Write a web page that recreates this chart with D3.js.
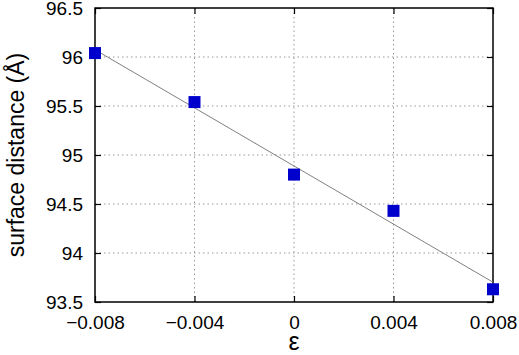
<!DOCTYPE html>
<html>
<head>
<meta charset="utf-8">
<script src="https://cdn.jsdelivr.net/npm/d3@7"></script>
<style>
  body { margin: 0; background: #fff; }
  text { font-family: "Liberation Sans", Arial, sans-serif; fill: #000; }
</style>
</head>
<body>
<svg id="chart"></svg>
<script>
// data
const strain = [-0.008, -0.004, 0, 0.004, 0.008];
const distance = [96.04, 95.54, 94.80, 94.43, 93.63];
const xTicks = [-0.008, -0.004, 0, 0.004, 0.008];
const yTicks = [93.5, 94, 94.5, 95, 95.5, 96, 96.5];

const width = 519, height = 355;
const margin = {top: 8, right: 26, bottom: 53, left: 95};

const svg = d3.select('#chart')
    .attr('width', width)
    .attr('height', height);

const innerW = width - margin.left - margin.right;
const innerH = height - margin.top - margin.bottom;

const g = svg.append('g')
    .attr('transform', `translate(${margin.left},${margin.top})`);

const x = d3.scaleLinear().domain([-0.008, 0.008]).range([0, innerW]);
const y = d3.scaleLinear().domain([93.5, 96.5]).range([innerH, 0]);

const fmtX = d => d === 0 ? '0' : d3.format('.3f')(d).replace('-', '\u2212');
const fmtY = d => String(d);

// grid
g.append('g').selectAll('line')
    .data(xTicks.slice(1, -1))
    .enter().append('line')
    .attr('x1', d => x(d)).attr('x2', d => x(d))
    .attr('y1', 0).attr('y2', innerH)
    .attr('stroke', '#999').attr('stroke-width', 1)
    .attr('stroke-dasharray', '1.5,3');

g.append('g').selectAll('line')
    .data(yTicks.slice(1, -1))
    .enter().append('line')
    .attr('x1', 0).attr('x2', innerW)
    .attr('y1', d => y(d)).attr('y2', d => y(d))
    .attr('stroke', '#999').attr('stroke-width', 1)
    .attr('stroke-dasharray', '1.5,3');

// axes with inward ticks
const tickLen = 6;
const xAxis = g.append('g')
    .attr('transform', `translate(0,${innerH})`)
    .call(d3.axisBottom(x).tickValues(xTicks).tickFormat(fmtX).tickSizeInner(-tickLen).tickSizeOuter(0).tickPadding(14));
const yAxis = g.append('g')
    .call(d3.axisLeft(y).tickValues(yTicks).tickFormat(fmtY).tickSizeInner(-tickLen).tickSizeOuter(0).tickPadding(12));
g.append('g')
    .call(d3.axisTop(x).tickValues(xTicks).tickFormat('').tickSizeInner(-tickLen).tickSizeOuter(0));
g.append('g')
    .attr('transform', `translate(${innerW},0)`)
    .call(d3.axisRight(y).tickValues(yTicks).tickFormat('').tickSizeInner(-tickLen).tickSizeOuter(0));

g.selectAll('.domain').remove();
g.selectAll('.tick line').attr('stroke', '#000').attr('stroke-width', 1.2);
xAxis.selectAll('text').style('font-size', '19px').attr('dy', '0.71em');
yAxis.selectAll('text').style('font-size', '19px');

// border
g.append('rect')
    .attr('width', innerW).attr('height', innerH)
    .attr('fill', 'none').attr('stroke', '#000').attr('stroke-width', 1.5);

// least squares fit line
const mx = d3.mean(strain), my = d3.mean(distance);
const slope = d3.sum(strain, (s, i) => (s - mx) * (distance[i] - my)) / d3.sum(strain, s => (s - mx) ** 2);
const fit = s => my + slope * (s - mx);
g.append('path')
    .datum(x.domain())
    .attr('d', d3.line().x(d => x(d)).y(d => y(fit(d))))
    .attr('stroke', '#808080').attr('stroke-width', 1).attr('fill', 'none');

// markers
const ms = 12;
g.selectAll('.pt')
    .data(strain)
    .enter().append('rect')
    .attr('class', 'pt')
    .attr('x', d => x(d) - ms / 2)
    .attr('y', (d, i) => y(distance[i]) - ms / 2)
    .attr('width', ms).attr('height', ms)
    .attr('fill', '#0000cd');

// labels
svg.append('text')
    .attr('x', margin.left + innerW / 2)
    .attr('y', 350)
    .attr('text-anchor', 'middle')
    .style('font-size', '25px')
    .text('\u03b5');

svg.append('text')
    .attr('transform', `translate(24,155) rotate(-90)`)
    .attr('text-anchor', 'middle')
    .style('font-size', '23px')
    .text('surface distance (\u00c5)');
</script>
</body>
</html>
